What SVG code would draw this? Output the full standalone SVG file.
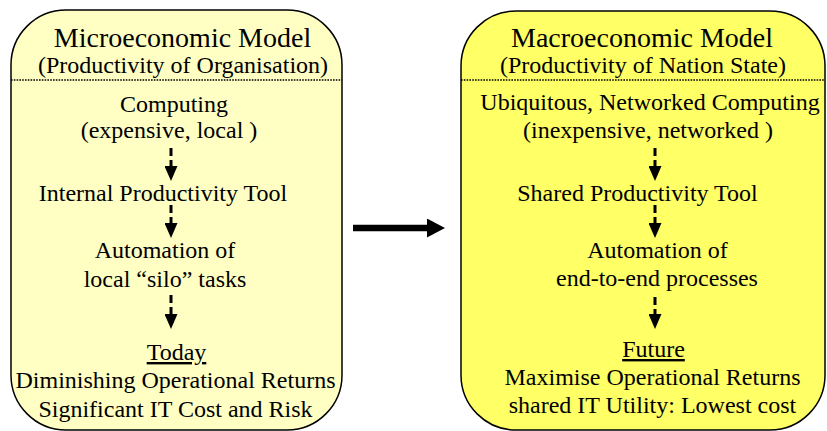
<svg xmlns="http://www.w3.org/2000/svg" width="827" height="431" viewBox="0 0 827 431" font-family="'Liberation Serif', 'Times New Roman', serif">
<style>
  text { fill: #000; text-anchor: middle; }
  .t28 { font-size: 28px; }
  .t24 { font-size: 24px; }
  .u { text-decoration: underline; }
  .box { stroke: #000; stroke-width: 1.5; }
  .sep { stroke: #000; stroke-width: 1.6; stroke-dasharray: 1.6 1.2; }
  .flow { stroke: #000; stroke-width: 3; stroke-dasharray: 8 4; fill: none; }
  .big { stroke: #000; stroke-width: 6.5; fill: none; }
</style>
<defs>
  <marker id="ah" markerUnits="userSpaceOnUse" markerWidth="15" markerHeight="13" refX="0" refY="6.5" orient="auto">
    <path d="M0,0 L15,6.5 L0,13 z" fill="#000"/>
  </marker>
  <marker id="bh" markerUnits="userSpaceOnUse" markerWidth="18" markerHeight="19" refX="0" refY="9.5" orient="auto">
    <path d="M0,0 L18,9.5 L0,19 z" fill="#000"/>
  </marker>
</defs>

<g id="micro">
  <rect class="box" x="11" y="10" width="331" height="420" rx="55" ry="55" fill="#FFFFC4"/>
  <line class="sep" x1="11" y1="80" x2="342" y2="80"/>
  <text class="t28" x="182.5" y="47">Microeconomic Model</text>
  <text class="t24" x="183" y="73">(Productivity of Organisation)</text>
  <text class="t24" x="174" y="112">Computing</text>
  <text class="t24" x="169" y="138">(expensive, local )</text>
  <text class="t24" x="163" y="201">Internal Productivity Tool</text>
  <text class="t24" x="165" y="258">Automation of</text>
  <text class="t24" x="165" y="287">local “silo” tasks</text>
  <text class="t24 u" x="176.5" y="360">Today</text>
  <text class="t24" x="175.5" y="388">Diminishing Operational Returns</text>
  <text class="t24" x="175.5" y="417">Significant IT Cost and Risk</text>
</g>

<g id="macro">
  <rect class="box" x="461" y="11" width="364" height="419" rx="55" ry="55" fill="#FFFF66"/>
  <line class="sep" x1="461" y1="80" x2="825" y2="80"/>
  <text class="t28" x="642" y="47">Macroeconomic Model</text>
  <text class="t24" x="643" y="73">(Productivity of Nation State)</text>
  <text class="t24" x="650" y="110">Ubiquitous, Networked Computing</text>
  <text class="t24" x="648" y="138">(inexpensive, networked )</text>
  <text class="t24" x="637.5" y="201">Shared Productivity Tool</text>
  <text class="t24" x="657.5" y="258">Automation of</text>
  <text class="t24" x="657" y="286">end-to-end processes</text>
  <text class="t24 u" x="653.5" y="357">Future</text>
  <text class="t24" x="652.5" y="385">Maximise Operational Returns</text>
  <text class="t24" x="652.5" y="413">shared IT Utility: Lowest cost</text>
</g>

<g id="connectors">
  <line class="flow" x1="171" y1="148" x2="171" y2="166" marker-end="url(#ah)"/>
  <line class="flow" x1="171" y1="205" x2="171" y2="223" marker-end="url(#ah)"/>
  <line class="flow" x1="171" y1="295" x2="171" y2="314" marker-end="url(#ah)"/>
  <line class="flow" x1="655" y1="148" x2="655" y2="166" marker-end="url(#ah)"/>
  <line class="flow" x1="655" y1="205" x2="655" y2="223" marker-end="url(#ah)"/>
  <line class="flow" x1="655" y1="297" x2="655" y2="314" marker-end="url(#ah)"/>
  <line class="big" x1="353" y1="228" x2="427" y2="228" marker-end="url(#bh)"/>
</g>
</svg>
